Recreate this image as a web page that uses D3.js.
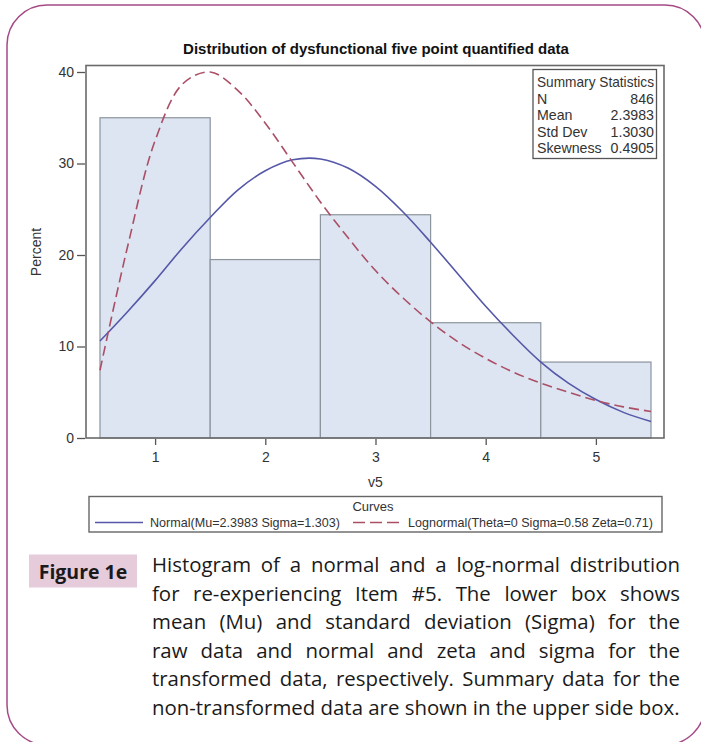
<!DOCTYPE html>
<html>
<head>
<meta charset="utf-8">
<script src="https://cdn.jsdelivr.net/npm/d3@7"></script>
<style>
  html, body { margin: 0; padding: 0; background: #fff; }
  svg { display: block; }
</style>
</head>
<body>
<svg id="fig" width="701" height="742"></svg>
<script>
// Histogram of item v5 (percent of 846 responses per score)
const categories = [1, 2, 3, 4, 5];
const percents = [35.0, 19.5, 24.4, 12.6, 8.3];

// Fitted density curves, in percent per unit bin
const curveX = [0.5, 0.75, 1.0, 1.25, 1.5, 1.75, 2.0, 2.25, 2.5, 2.75, 3.0,
                3.25, 3.5, 3.75, 4.0, 4.25, 4.5, 4.75, 5.0, 5.25, 5.5];
const normalPct = [10.6, 13.8, 17.2, 20.8, 24.1, 27.1, 29.2, 30.4, 30.5, 29.5, 27.5,
                   24.7, 21.4, 17.9, 14.4, 11.2, 8.3, 6.0, 4.2, 2.8, 1.8];
const lognormalPct = [7.4, 20.9, 32.5, 38.7, 40.0, 38.0, 34.4, 30.1, 25.8, 21.9, 18.3,
                      15.3, 12.7, 10.5, 8.7, 7.2, 6.0, 5.0, 4.1, 3.4, 2.9];

const yTicks = [0, 10, 20, 30, 40];
const xTicks = [1, 2, 3, 4, 5];

const summaryLabels = ["N", "Mean", "Std Dev", "Skewness"];
const summaryValues = ["846", "2.3983", "1.3030", "0.4905"];

const legendLabels = ["Normal(Mu=2.3983 Sigma=1.303)", "Lognormal(Theta=0 Sigma=0.58 Zeta=0.71)"];

const captionLines = [
  "Histogram of a normal and a log-normal distribution",
  "for re-experiencing Item #5. The lower box shows",
  "mean (Mu) and standard deviation (Sigma) for the",
  "raw data and normal and zeta and sigma for the",
  "transformed data, respectively. Summary data for the",
  "non-transformed data are shown in the upper side box."
];

const svg = d3.select("#fig");
const SANS = "'Liberation Sans', Arial, sans-serif";
const CAP = "'Open Sans', Lato, sans-serif";

// outer rounded frame
svg.append("rect")
  .attr("x", 7).attr("y", 5).attr("width", 698).attr("height", 740)
  .attr("rx", 40).attr("ry", 40)
  .attr("fill", "none").attr("stroke", "#a54a86").attr("stroke-width", 1.5);

// plot area
const plot = { left: 86, top: 65.5, right: 664, bottom: 438 };
const x = d3.scaleLinear().domain([0.373, 5.618]).range([plot.left, plot.right]);
const y = d3.scaleLinear().domain([0, 40]).range([plot.bottom, 72]);

// title
svg.append("text")
  .attr("x", 376).attr("y", 54).attr("text-anchor", "middle")
  .attr("font-family", SANS).attr("font-weight", "bold").attr("font-size", 15)
  .attr("fill", "#111")
  .text("Distribution of dysfunctional five point quantified data");

// bars
svg.append("g").selectAll("rect").data(categories).join("rect")
  .attr("x", d => x(d - 0.5))
  .attr("y", (d, i) => y(percents[i]))
  .attr("width", d => x(d + 0.5) - x(d - 0.5))
  .attr("height", (d, i) => y(0) - y(percents[i]))
  .attr("fill", "#dce5f1").attr("stroke", "#8c949e").attr("stroke-width", 1.2);

// density curves
const line = (vals) => d3.line()
  .x((d, i) => x(curveX[i])).y(d => y(d))
  .curve(d3.curveCatmullRom.alpha(0.5))(vals);

svg.append("path").attr("d", line(normalPct))
  .attr("fill", "none").attr("stroke", "#5557a8").attr("stroke-width", 1.6);
svg.append("path").attr("d", line(lognormalPct))
  .attr("fill", "none").attr("stroke", "#ab4f66").attr("stroke-width", 1.6)
  .attr("stroke-dasharray", "10,5");

// plot frame
svg.append("rect")
  .attr("x", plot.left).attr("y", plot.top)
  .attr("width", plot.right - plot.left).attr("height", plot.bottom - plot.top)
  .attr("fill", "none").attr("stroke", "#6a6a6a").attr("stroke-width", 1.6);

// axes
const yAxis = svg.append("g").attr("transform", `translate(${plot.left - 1},0)`)
  .call(d3.axisLeft(y).tickValues(yTicks).tickSize(8).tickPadding(3).tickFormat(d3.format("d")));
const xAxis = svg.append("g").attr("transform", `translate(0,${plot.bottom + 1})`)
  .call(d3.axisBottom(x).tickValues(xTicks).tickSize(6).tickPadding(7).tickFormat(d3.format("d")));
[yAxis, xAxis].forEach(a => {
  a.attr("font-size", null).attr("font-family", null);
  a.select(".domain").remove();
  a.selectAll("line").attr("stroke", "#555").attr("stroke-width", 1.3);
  a.selectAll("text").style("font-family", SANS).style("font-size", "14px").attr("fill", "#333");
});

svg.append("text")
  .attr("transform", "translate(41,252) rotate(-90)")
  .attr("text-anchor", "middle")
  .style("font-family", SANS).style("font-size", "14px").attr("fill", "#333")
  .text("Percent");
svg.append("text")
  .attr("x", 375.5).attr("y", 487).attr("text-anchor", "middle")
  .style("font-family", SANS).style("font-size", "14px").attr("fill", "#333")
  .text("v5");

// summary statistics box
const sb = svg.append("g");
sb.append("rect").attr("x", 533).attr("y", 69.5).attr("width", 123.5).attr("height", 89)
  .attr("fill", "#fff").attr("stroke", "#555").attr("stroke-width", 1.3);
sb.append("text").attr("x", 537).attr("y", 87).attr("font-family", SANS)
  .attr("font-size", 14.2).attr("fill", "#333")
  .attr("textLength", 117).attr("lengthAdjust", "spacingAndGlyphs")
  .text("Summary Statistics");
summaryLabels.forEach((lab, i) => {
  const by = 87 + 16.5 * (i + 1);
  sb.append("text").attr("x", 537).attr("y", by).attr("font-family", SANS)
    .attr("font-size", 14.2).attr("fill", "#333").text(lab);
  sb.append("text").attr("x", 654).attr("y", by).attr("text-anchor", "end")
    .attr("font-family", SANS).attr("font-size", 14.2).attr("fill", "#333").text(summaryValues[i]);
});

// curves legend
const lg = svg.append("g");
lg.append("rect").attr("x", 89).attr("y", 496.5).attr("width", 573).attr("height", 35.5)
  .attr("fill", "#fff").attr("stroke", "#666").attr("stroke-width", 1.4);
lg.append("text").attr("x", 373).attr("y", 511).attr("text-anchor", "middle")
  .attr("font-family", SANS).attr("font-size", 13).attr("fill", "#333").text("Curves");
lg.append("line").attr("x1", 95).attr("x2", 143).attr("y1", 522.5).attr("y2", 522.5)
  .attr("stroke", "#5557a8").attr("stroke-width", 1.6);
lg.append("text").attr("x", 150).attr("y", 527).attr("font-family", SANS)
  .attr("font-size", 13).attr("fill", "#333")
  .attr("textLength", 190).attr("lengthAdjust", "spacingAndGlyphs")
  .text(legendLabels[0]);
lg.append("line").attr("x1", 353).attr("x2", 399).attr("y1", 522.5).attr("y2", 522.5)
  .attr("stroke", "#ab4f66").attr("stroke-width", 1.6).attr("stroke-dasharray", "12,5");
lg.append("text").attr("x", 408).attr("y", 527).attr("font-family", SANS)
  .attr("font-size", 13).attr("fill", "#333")
  .attr("textLength", 245).attr("lengthAdjust", "spacingAndGlyphs")
  .text(legendLabels[1]);

// figure label and caption
svg.append("rect").attr("x", 29).attr("y", 554.5).attr("width", 108).attr("height", 33)
  .attr("fill", "#e6cbdb");
svg.append("text").attr("x", 83).attr("y", 578.5).attr("text-anchor", "middle")
  .attr("font-family", CAP).attr("font-weight", "bold").attr("font-size", 19.5)
  .attr("fill", "#1a1a1a").text("Figure 1e");

const capLeft = 152, capRight = 680, capSize = 20.4;
const capG = svg.append("g").attr("font-family", CAP).attr("font-size", capSize).attr("fill", "#1a1a1a");
captionLines.forEach((ln, i) => {
  const by = 572 + 28.6 * i;
  const last = i === captionLines.length - 1;
  if (last) {
    capG.append("text").attr("x", capLeft).attr("y", by).text(ln);
    return;
  }
  // justified line: spread words across the column width
  const words = ln.split(" ");
  const nodes = words.map(w => capG.append("text").attr("y", by).text(w));
  const widths = nodes.map(n => n.node().getComputedTextLength());
  const total = d3.sum(widths);
  const gap = (capRight - capLeft - total) / (words.length - 1);
  let cx = capLeft;
  nodes.forEach((n, j) => { n.attr("x", cx); cx += widths[j] + gap; });
});
</script>
</body>
</html>
